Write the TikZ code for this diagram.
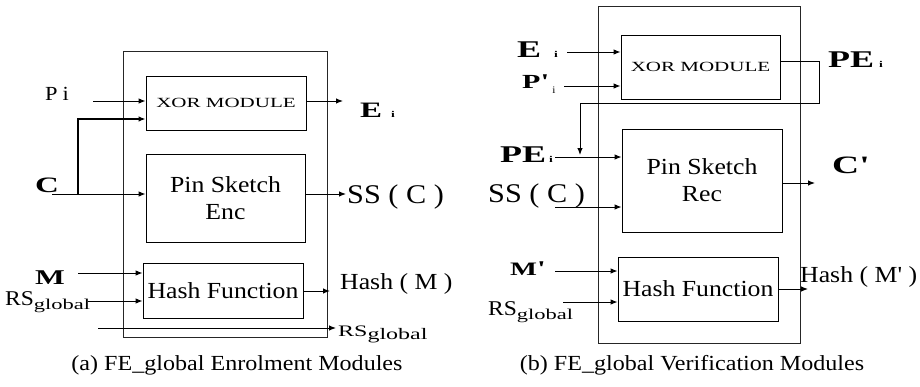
\documentclass[tikz,border=0pt]{standalone}
\usepackage{fontspec}
\setmainfont[FakeStretch=1.12]{Liberation Serif}
\newfontfamily\wfont[FakeStretch=1.5]{Liberation Serif}
\usetikzlibrary{arrows.meta}
\font\sqN="Liberation Serif" at 23pt
\font\sqB="Liberation Serif/B" at 25pt
\font\sqC="Liberation Serif/B" at 21pt
\newcommand\fs[1]{\fontsize{#1}{#1}\selectfont}
\newcommand\wb[1]{\wfont\bfseries\fs{#1}}
\newcommand\gsub[1]{\raisebox{-4pt}{\wfont\fs{#1}global}}
\begin{document}
\begin{tikzpicture}[x=1pt,y=-1pt,
  box/.style={draw, line width=0.8pt, inner sep=0pt, align=center},
  outer/.style={draw=black!85, line width=0.8pt, inner sep=0pt},
  lbl/.style={inner sep=0pt, anchor=base west},
  arr/.style={-{Latex[length=7pt,width=5.5pt]}, line width=1pt},
  big/.style={font=\fontsize{23}{27}\selectfont}]
\useasboundingbox (0,0) rectangle (920,386);

% ---------- (a) enrolment ----------
\node[outer, minimum width=204, minimum height=286] (outA) at (225,194) {};
\node[box, minimum width=160, minimum height=54] (xorA) at (226,103) {\wfont\fs{14}XOR MODULE};
\node[box, big, minimum width=159, minimum height=88] (encA) at (225.5,198) {Pin Sketch\\Enc};
\node[box, big, minimum width=160, minimum height=55] (hashA) at (223,290.5) {Hash Function};

\node[lbl] (pA) at (45,100) {\fs{20}P\hspace{5pt}i};
\node[lbl] (eA) at (360,117) {{\wb{22}E}\hspace{9pt}{\wb{9}i}};
\node[lbl] (cA) at (35,192) {\wb{22}C};
\node[lbl] (ssA) at (347,203) {\fs{27}SS ( C )};
\node[lbl] (mA) at (35,284) {\wb{21}M};
\node[lbl] (rsA) at (5,305) {\fs{21}RS\gsub{15}};
\node[lbl] (hmA) at (340,289) {\fs{23}Hash ( M )};
\node[lbl] (rtA) at (338,336) {{\wfont\fs{16}RS}\raisebox{-3pt}{\wfont\fs{16}global}};
\node[anchor=base, inner sep=0pt] (capA) at (237,370) {\fs{21.5}(a) FE\_global Enrolment Modules};

\coordinate (pAo) at (93,101);
\draw[arr] (pAo) -- (xorA.west |- pAo);
\coordinate (eAo) at (343,101);
\draw[arr] (xorA.east |- eAo) -- (eAo);
\coordinate (cAs) at (52,194);
\coordinate (cAj) at (78,194);
\coordinate (cAu) at (78,119);
\draw[arr] (cAs) -- (encA.west |- cAs);
\draw[arr, line width=1.4pt] (cAj) -- (cAu) -- (xorA.west |- cAu);
\coordinate (ssAo) at (346,194);
\draw[arr] (encA.east |- ssAo) -- (ssAo);
\coordinate (mAo) at (78,273);
\draw[arr] (mAo) -- (hashA.west |- mAo);
\coordinate (rsAo) at (88,301);
\draw[arr] (rsAo) -- (hashA.west |- rsAo);
\coordinate (hAo) at (330,291);
\draw[arr] (hashA.east |- hAo) -- (hAo);
\coordinate (rtA1) at (98,328);
\coordinate (rtA2) at (336,328);
\draw[arr] (rtA1) -- (rtA2);

% ---------- (b) verification ----------
\node[outer, minimum width=202, minimum height=337] (outB) at (699,174.5) {};
\node[box, minimum width=159, minimum height=64] (xorB) at (700.5,67) {\wfont\fs{14}XOR MODULE};
\node[box, big, minimum width=160, minimum height=103] (recB) at (702,180.5) {Pin Sketch\\Rec};
\node[box, big, minimum width=160, minimum height=64] (hashB) at (698,289) {Hash Function};

\node[lbl] (eB) at (517,57) {{\wb{24}E}\hspace{13pt}{\wb{9}i}};
\node[lbl] (pB) at (522,88) {{\wb{20}P}\scalebox{1.5}[1]{\sqC'}\hspace{3pt}\raisebox{-5pt}{\fs{10}i}};
\node[lbl] (peR) at (828,67) {{\wb{24}PE}\hspace{5pt}{\wb{9}i}};
\node[lbl] (peL) at (500,162) {{\wb{24}PE}\hspace{3pt}{\wb{9}i}};
\node[lbl] (ssB) at (488,202) {\fs{27}SS ( C )};
\node[lbl] (cB) at (832,173) {{\wb{25}C}\scalebox{1.5}[1]{\sqB'}};
\node[lbl] (mB) at (510,275) {{\wb{19}M}\scalebox{1.5}[1]{\sqC'}};
\node[lbl] (rsB) at (488,315) {\fs{21}RS\gsub{15}};
\node[lbl] (hmB) at (800,282) {\fs{23}Hash ( M\scalebox{1.12}[1]{\sqN'} )};
\node[anchor=base, inner sep=0pt] (capB) at (692,370) {\fs{21.5}(b) FE\_global Verification Modules};

\coordinate (eBo) at (567,52);
\draw[arr] (eBo) -- (xorB.west |- eBo);
\coordinate (pBo) at (564,86);
\draw[arr] (pBo) -- (xorB.west |- pBo);
\coordinate (lpy) at (819,61);
\coordinate (lpR) at (819,103);
\coordinate (lpL) at (580,103);
\coordinate (lpD) at (580,155);
\draw[arr] (xorB.east |- lpy) -- (lpy) -- (lpR) -- (lpL) -- (lpD);
\coordinate (peBo) at (555,157);
\draw[arr] (peBo) -- (recB.west |- peBo);
\coordinate (ssBo) at (555,207);
\draw[arr] (ssBo) -- (recB.west |- ssBo);
\coordinate (cBo) at (815,183);
\draw[arr] (recB.east |- cBo) -- (cBo);
\coordinate (mBo) at (555,271);
\draw[arr] (mBo) -- (hashB.west |- mBo);
\coordinate (rsBo) at (563,302);
\draw[arr] (rsBo) -- (hashB.west |- rsBo);
\coordinate (hBo) at (808,289);
\draw[arr] (hashB.east |- hBo) -- (hBo);
\end{tikzpicture}
\end{document}
